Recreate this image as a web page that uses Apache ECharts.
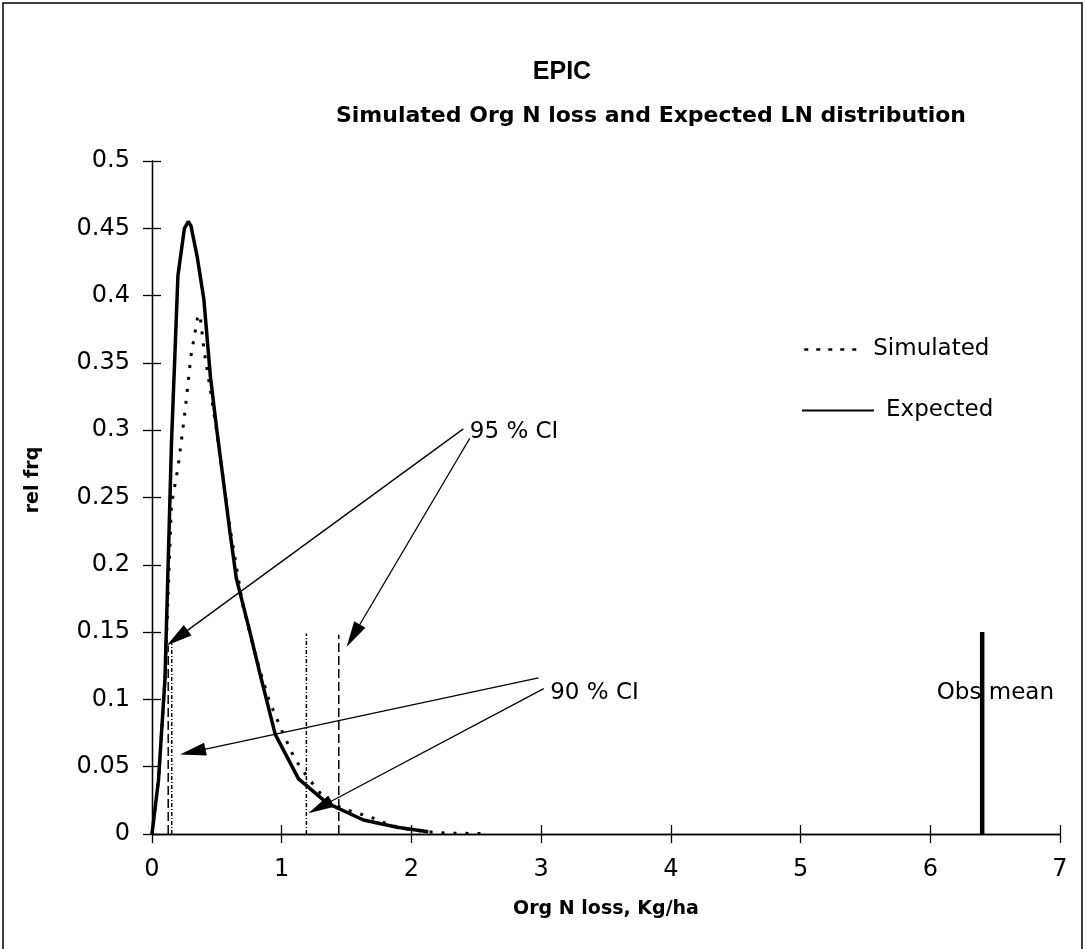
<!DOCTYPE html>
<html>
<head>
<meta charset="utf-8">
<script src="https://cdn.jsdelivr.net/npm/echarts@6/dist/echarts.min.js"></script>
<style>html,body{margin:0;padding:0;background:#fff}#c{width:1086px;height:949px}</style>
</head>
<body>
<div id="c"></div>
<script>
// ---- data ----
const expectedX = [0, 0.05, 0.1, 0.15, 0.2, 0.25, 0.28, 0.3, 0.35, 0.4, 0.45, 0.5, 0.6, 0.65, 0.75, 0.83, 0.95, 1.13, 1.35, 1.63, 1.89, 2.13];
const expectedY = [0, 0.04, 0.115, 0.29, 0.415, 0.45, 0.455, 0.452, 0.428, 0.397, 0.34, 0.30, 0.225, 0.19, 0.152, 0.12, 0.074, 0.041, 0.023, 0.0104, 0.005, 0.0017];
const simulatedX = [0, 0.05, 0.1, 0.15, 0.2, 0.25, 0.3, 0.35, 0.37, 0.4, 0.45, 0.5, 0.6, 0.7, 0.8, 0.9, 1.0, 1.1, 1.2, 1.3, 1.4, 1.5, 1.6, 1.7, 1.8, 1.9, 2.0, 2.1, 2.2, 2.3, 2.4, 2.5, 2.6];
const simulatedY = [0, 0.04, 0.115, 0.245, 0.272, 0.31, 0.355, 0.383, 0.386, 0.36, 0.33, 0.298, 0.228, 0.17, 0.132, 0.1, 0.077, 0.056, 0.042, 0.03, 0.022, 0.018, 0.015, 0.012, 0.008, 0.005, 0.003, 0.002, 0.001, 0.0005, 0.0005, 0.0004, 0.0003];
const ci95 = [0.125, 1.44];
const ci95Height = [0.14, 0.148];
const ci90 = [0.152, 1.19];
const ci90Height = [0.142, 0.149];
const obsMean = 6.4;
const obsMeanHeight = 0.15;
const xTicks = [0, 1, 2, 3, 4, 5, 6, 7];
const yTicks = [0, 0.05, 0.1, 0.15, 0.2, 0.25, 0.3, 0.35, 0.4, 0.45, 0.5];
// annotation arrows: [from, arrow-head centre] in data units
const arrows95 = [[[2.4, 0.301], [0.194, 0.1457]], [[2.45, 0.294], [1.551, 0.1473]]];
const arrows90 = [[[2.98, 0.116], [0.314, 0.061]], [[3.02, 0.108], [1.294, 0.0199]]];
const labels = [{ name: '95 % CI', pos: [2.45, 0.299] }, { name: '90 % CI', pos: [3.07, 0.1045] }, { name: 'Obs mean', pos: [6.05, 0.1045] }];

const zip = (xs, ys) => xs.map((x, i) => [x, ys[i]]);
const vline = (x, h) => [[x, 0], [x, h]];
const FONT = 'DejaVu Sans';

const chart = echarts.init(document.getElementById('c'), null, { renderer: 'canvas' });

const series = [
  { name: 'Simulated', type: 'line', data: zip(simulatedX, simulatedY), symbol: 'none', z: 3,
    lineStyle: { color: '#000', width: 3, type: [3, 9] }, itemStyle: { color: '#000' } },
  { name: 'Expected', type: 'line', data: zip(expectedX, expectedY), symbol: 'none', z: 4,
    lineStyle: { color: '#000', width: 3.5 }, itemStyle: { color: '#000' } }
];
ci95.forEach((x, i) => series.push({ type: 'line', data: vline(x, ci95Height[i]), symbol: 'none', silent: true,
  lineStyle: { color: '#000', width: 1.5, type: [9, 4] } }));
ci90.forEach((x, i) => series.push({ type: 'line', data: vline(x, ci90Height[i]), symbol: 'none', silent: true,
  lineStyle: { color: '#000', width: 1.5, type: [4, 2, 1, 2] } }));
series.push({ type: 'line', data: vline(obsMean, obsMeanHeight), symbol: 'none', silent: true,
  lineStyle: { color: '#000', width: 4.5 } });
series.push({ type: 'scatter', data: [], silent: true,
  markLine: { silent: true, symbol: ['none', 'triangle'], symbolSize: [13, 26], animation: false,
    lineStyle: { color: '#000', width: 1.3, type: 'solid' }, itemStyle: { color: '#000' }, label: { show: false },
    data: arrows95.concat(arrows90).map(a => [{ coord: a[0] }, { coord: a[1] }]) } });
series.push({ type: 'scatter', symbolSize: 0, silent: true, itemStyle: { opacity: 1, color: '#000' },
  data: labels.map(l => ({ name: l.name, value: l.pos })),
  label: { show: true, position: 'right', distance: 0, formatter: p => p.name,
    color: '#000', opacity: 1, fontFamily: FONT, fontSize: 23 } });

const baseAxis = {
  axisLine: { show: true, lineStyle: { color: '#000', width: 1.3 } },
  axisTick: { show: true, length: 9, lineStyle: { color: '#000', width: 1.3 } },
  splitLine: { show: false }
};

chart.setOption({
  animation: false,
  backgroundColor: '#fff',
  title: [
    { text: 'EPIC', left: 557, textAlign: 'center', top: 55, textStyle: { fontFamily: 'Liberation Sans', fontWeight: 'bold', fontSize: 25, color: '#000' } },
    { text: 'Simulated Org N loss and Expected LN distribution', left: 646, textAlign: 'center', top: 100,
      textStyle: { fontFamily: 'DejaVu Sans', fontWeight: 'bold', fontSize: 22, color: '#000' } }
  ],
  legend: [
    { data: ['Simulated'], left: 798, top: 333, itemWidth: 58, itemHeight: 14,
      itemStyle: { opacity: 0 }, lineStyle: { type: [4, 8], width: 2.5 },
      textStyle: { fontFamily: FONT, fontSize: 23, color: '#000', padding: [0, 0, 0, 6] } },
    { data: ['Expected'], left: 796, top: 394, itemWidth: 72, itemHeight: 14,
      itemStyle: { opacity: 0 }, lineStyle: { width: 2 },
      textStyle: { fontFamily: FONT, fontSize: 23, color: '#000', padding: [0, 0, 0, 7] } }
  ],
  grid: { left: 152, right: 26, top: 161, bottom: 115, containLabel: false },
  xAxis: [
    Object.assign({}, baseAxis, { type: 'value', min: xTicks[0], max: xTicks[xTicks.length - 1], interval: 1,
      name: 'Org N loss, Kg/ha', nameLocation: 'middle', nameGap: 66,
      nameTextStyle: { fontFamily: 'DejaVu Sans', fontWeight: 'bold', fontSize: 19, color: '#000' },
      axisLabel: { margin: 24, fontFamily: FONT, fontSize: 24, color: '#000' } }),
    Object.assign({}, baseAxis, { type: 'value', position: 'bottom', min: 0, max: 7, interval: 1,
      axisTick: { show: true, inside: true, length: 9, lineStyle: { color: '#000', width: 1.3 } },
      axisLabel: { show: false } })
  ],
  yAxis: [
    Object.assign({}, baseAxis, { type: 'value', min: yTicks[0], max: yTicks[yTicks.length - 1], interval: 0.05,
      axisLabel: { margin: 22, fontFamily: FONT, fontSize: 24, color: '#000' } }),
    Object.assign({}, baseAxis, { type: 'value', position: 'left', min: 0, max: 0.5, interval: 0.05,
      axisTick: { show: true, inside: true, length: 9, lineStyle: { color: '#000', width: 1.3 } },
      axisLabel: { show: false } })
  ],
  graphic: [
    { type: 'rect', shape: { x: 3, y: 3, width: 1079, height: 950 }, style: { fill: 'none', stroke: '#000', lineWidth: 1.5 }, silent: true },
    { type: 'text', x: 33, y: 480, rotation: Math.PI / 2, silent: true,
      style: { text: 'rel frq', fontFamily: 'DejaVu Sans', fontWeight: 'bold', fontSize: 19, fill: '#000', align: 'center', verticalAlign: 'middle' } }
  ],
  series: series
});
</script>
</body>
</html>
